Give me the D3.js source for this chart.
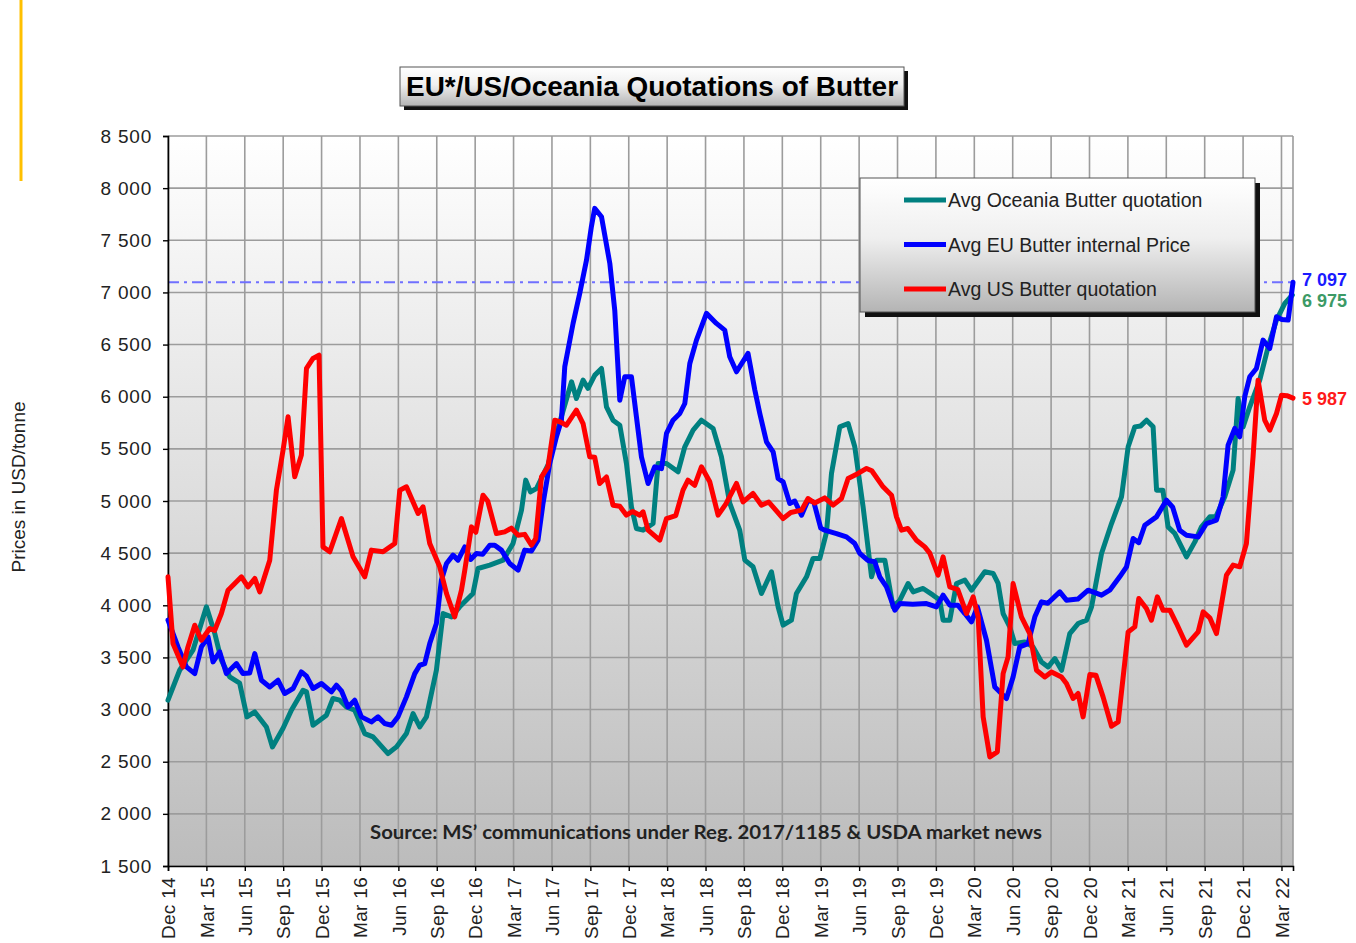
<!DOCTYPE html>
<html lang="en">
<head>
<meta charset="utf-8">
<title>EU/US/Oceania Quotations of Butter</title>
<script src="https://cdn.jsdelivr.net/npm/d3@7"></script>
<style>
  body { margin: 0; background: #fff; }
  svg { display: block; font-family: "Liberation Sans", Arial, sans-serif; }
</style>
</head>
<body>
<script>
// quarter labels on the x axis, every 3 months starting Dec 2014
var quarterLabels = ["Dec 14", "Mar 15", "Jun 15", "Sep 15", "Dec 15", "Mar 16", "Jun 16", "Sep 16",
  "Dec 16", "Mar 17", "Jun 17", "Sep 17", "Dec 17", "Mar 18", "Jun 18", "Sep 18", "Dec 18",
  "Mar 19", "Jun 19", "Sep 19", "Dec 19", "Mar 20", "Jun 20", "Sep 20", "Dec 20", "Mar 21",
  "Jun 21", "Sep 21", "Dec 21", "Mar 22"];
var yTicks = [1500, 2000, 2500, 3000, 3500, 4000, 4500, 5000, 5500, 6000, 6500, 7000, 7500, 8000, 8500];

// [months since Dec 2014, USD/tonne]
var oceania = [[0,3090],[0.91,3377],[1.95,3569],[3.0,3985],[3.65,3732],[4.17,3473],[4.82,3313],[5.6,3253],
  [6.17,2930],[6.78,2977],[7.69,2833],[8.16,2642],[8.99,2821],[9.64,2994],[10.55,3185],[10.82,3170],
  [11.33,2850],[12.38,2946],[12.89,3106],[13.42,3090],[13.94,3025],[14.59,2994],[15.37,2770],[16.02,2738],
  [17.19,2578],[17.85,2642],[18.63,2770],[19.15,2962],[19.67,2833],[20.19,2930],[20.97,3377],[21.49,3921],
  [22.15,3889],[22.79,3985],[23.83,4113],[24.22,4353],[25.14,4385],[26.18,4433],[26.96,4593],[27.62,4912],
  [27.95,5200],[28.32,5088],[28.79,5120],[29.7,5350],[30.6,5750],[31.53,6143],[31.91,5983],[32.43,6159],
  [32.82,6079],[33.35,6207],[33.87,6271],[34.26,5903],[34.77,5775],[35.3,5727],[35.82,5360],[36.21,4944],
  [36.6,4736],[37.12,4720],[37.9,4784],[38.29,5360],[38.95,5360],[39.85,5280],[40.38,5520],[41.03,5680],
  [41.68,5775],[42.59,5696],[43.24,5424],[43.89,4980],[44.67,4720],[45.07,4433],[45.71,4369],[46.37,4113],
  [47.15,4321],[47.67,3985],[48.06,3809],[48.71,3857],[49.1,4113],[49.89,4273],[50.4,4449],[50.93,4449],
  [51.45,4698],[51.84,5264],[52.49,5711],[53.14,5743],[53.66,5520],[54.31,4944],[54.97,4273],[55.36,4433],
  [56.01,4433],[56.65,3985],[57.18,4049],[57.83,4209],[58.22,4129],[59.0,4161],[59.78,4097],[60.3,4050],
  [60.56,3857],[61.08,3857],[61.61,4209],[62.26,4241],[62.78,4145],[63.82,4321],[64.47,4305],[64.86,4209],
  [65.25,3921],[65.77,3793],[66.16,3633],[66.94,3649],[67.59,3601],[68.25,3457],[68.77,3409],[69.29,3489],
  [69.82,3377],[70.46,3729],[71.11,3825],[71.77,3857],[72.16,3985],[72.94,4497],[73.72,4784],[74.5,5040],
  [75.02,5520],[75.54,5711],[76.0,5720],[76.46,5775],[76.97,5711],[77.24,5104],[77.73,5104],[78.14,4752],
  [78.67,4688],[79.58,4464],[80.23,4608],[80.75,4752],[81.4,4848],[81.87,4848],[82.57,5040],[83.22,5296],
  [83.61,5983],[84.0,5711],[84.52,5903],[85.3,6159],[85.96,6479],[86.61,6735],[87.26,6895],[87.85,6975]];

var euInternal = [[0,3857],[0.78,3601],[1.44,3409],[2.09,3345],[2.61,3601],[3.13,3697],[3.52,3457],[4.04,3553],
  [4.56,3345],[5.35,3441],[5.86,3345],[6.38,3350],[6.78,3537],[7.3,3281],[7.95,3217],[8.6,3281],[9.12,3154],
  [9.77,3202],[10.42,3361],[10.82,3320],[11.33,3202],[11.99,3250],[12.77,3170],[13.16,3234],[13.55,3180],
  [14.07,3025],[14.59,3090],[15.11,2930],[15.89,2882],[16.41,2930],[16.93,2866],[17.46,2850],[17.97,2930],
  [18.63,3122],[19.28,3345],[19.67,3425],[20.06,3440],[20.45,3633],[20.97,3825],[21.36,4241],[21.76,4401],
  [22.27,4481],[22.66,4433],[23.19,4560],[23.65,4440],[24.1,4497],[24.59,4490],[25.14,4576],[25.53,4576],
  [26.05,4529],[26.7,4401],[27.35,4337],[27.87,4529],[28.4,4520],[28.91,4624],[29.3,4976],[29.83,5360],
  [30.35,5616],[30.74,5775],[31.0,6287],[31.65,6703],[32.17,6991],[32.7,7310],[33.08,7630],[33.34,7806],
  [33.87,7726],[34.52,7279],[34.91,6824],[35.3,5967],[35.69,6191],[36.21,6191],[36.6,5807],[36.99,5424],
  [37.51,5168],[38.03,5328],[38.56,5310],[38.95,5648],[39.46,5775],[39.99,5839],[40.38,5935],[40.77,6319],
  [41.29,6543],[42.07,6799],[42.85,6703],[43.5,6639],[43.89,6383],[44.42,6239],[45.32,6415],[45.85,6064],
  [46.24,5839],[46.76,5568],[47.28,5472],[47.67,5216],[48.06,5184],[48.58,4976],[48.97,5000],[49.5,4864],
  [50.01,5008],[50.46,4990],[51.0,4740],[51.31,4720],[52.23,4688],[53.01,4656],[53.66,4592],[54.05,4497],
  [54.68,4430],[55.22,4417],[55.61,4273],[56.14,4177],[56.79,3953],[57.18,4017],[58.19,4010],[59.26,4017],
  [60.04,3985],[60.56,4097],[61.08,4001],[61.71,4001],[62.26,3921],[62.78,3841],[63.24,3985],[63.95,3665],
  [64.6,3217],[65.51,3106],[66.03,3313],[66.55,3601],[67.2,3633],[67.73,3889],[68.25,4033],[68.74,4020],
  [69.68,4129],[70.2,4049],[71.09,4060],[71.89,4145],[72.94,4097],[73.58,4145],[74.36,4273],[74.89,4369],
  [75.41,4640],[75.85,4600],[76.32,4768],[77.23,4848],[78.01,5008],[78.5,4940],[79.05,4720],[79.58,4672],
  [80.49,4656],[81.14,4784],[81.92,4816],[82.44,5040],[82.83,5536],[83.35,5696],[83.74,5616],[84.13,6000],
  [84.52,6191],[85.04,6271],[85.56,6543],[86.08,6463],[86.61,6767],[87.03,6740],[87.52,6735],[87.9,7097]];

var usQuotation = [[0,4273],[0.39,3633],[1.17,3409],[1.56,3601],[2.09,3809],[2.61,3665],[3.26,3777],[3.65,3760],
  [4.17,3921],[4.69,4145],[5.74,4273],[6.25,4177],[6.78,4257],[7.17,4129],[7.95,4433],[8.47,5104],[8.99,5488],
  [9.38,5807],[9.9,5232],[10.42,5440],[10.82,6271],[11.33,6367],[11.8,6399],[12.11,4560],[12.64,4513],
  [13.55,4832],[14.46,4465],[15.37,4273],[15.89,4529],[16.8,4513],[17.72,4593],[18.11,5104],[18.63,5136],
  [19.54,4880],[19.93,4944],[20.45,4593],[21.23,4369],[21.76,4113],[22.4,3889],[22.93,4145],[23.19,4337],
  [23.71,4752],[24.05,4700],[24.61,5056],[24.98,5000],[25.66,4688],[26.31,4704],[26.83,4740],[27.35,4672],
  [27.87,4680],[28.4,4576],[28.73,4640],[29.18,5232],[29.69,5328],[30.22,5775],[30.61,5760],[31.13,5727],
  [31.91,5871],[32.43,5743],[32.95,5424],[33.34,5420],[33.73,5168],[34.26,5230],[34.77,4960],[35.3,4950],
  [35.82,4864],[36.31,4900],[36.86,4864],[37.12,4896],[37.51,4720],[38.42,4624],[38.95,4832],[39.67,4860],
  [40.24,5104],[40.63,5200],[41.15,5150],[41.68,5328],[42.33,5184],[42.98,4864],[43.58,4970],[44.42,5168],
  [44.93,4992],[45.71,5072],[46.37,4960],[46.94,4990],[48.06,4832],[48.66,4890],[49.5,4912],[50.01,5024],
  [50.53,4980],[51.31,5030],[51.97,4960],[52.62,5024],[53.14,5216],[53.92,5264],[54.58,5312],[54.99,5290],
  [55.87,5136],[56.53,5056],[56.92,4848],[57.31,4720],[57.8,4736],[58.48,4624],[59.13,4560],[59.52,4500],
  [60.17,4289],[60.56,4465],[61.08,4177],[61.71,4150],[62.39,3921],[62.91,4081],[63.3,3889],[63.69,2930],
  [64.21,2546],[64.8,2594],[65.25,3345],[65.64,3505],[66.03,4209],[66.68,3889],[67.33,3729],[67.86,3377],
  [68.51,3313],[69.03,3361],[69.81,3313],[70.2,3250],[70.72,3106],[71.11,3154],[71.5,2930],[72.03,3337],
  [72.5,3330],[73.06,3122],[73.72,2840],[74.24,2882],[75.02,3745],[75.54,3793],[75.85,4065],[76.45,3969],
  [76.84,3857],[77.3,4081],[77.75,3953],[78.28,3953],[78.8,3825],[79.58,3617],[80.49,3745],[80.88,3937],
  [81.4,3880],[81.92,3729],[82.7,4289],[83.22,4385],[83.74,4369],[84.26,4593],[84.78,5424],[85.17,6159],
  [85.69,5775],[86.08,5679],[86.61,5839],[87.0,6015],[87.42,6010],[87.9,5987]];

var seriesNames = ["Avg Oceania Butter quotation", "Avg EU Butter internal Price", "Avg US Butter quotation"];
var seriesColors = ["#008080", "#0000ff", "#ff0000"];
var latestValues = [6975, 7097, 5987];
var latestColors = ["#3c9a66", "#1a1aff", "#ff1a1a"];

var w = 1356, h = 943;
var margin = { left: 168, right: 63, top: 136, bottom: 77 };

var svg = d3.select("body").append("svg")
  .attr("width", w)
  .attr("height", h);

var x = d3.scaleLinear().domain([0, 87.9]).range([margin.left, w - margin.right]);
var y = d3.scaleLinear().domain([1500, 8500]).range([h - margin.bottom, margin.top]);
var fmt = function(d) { return d3.format(",")(d).replace(/,/g, " "); };

var defs = svg.append("defs");
var bg = defs.append("linearGradient").attr("id", "plotbg").attr("x1", 0).attr("y1", 0).attr("x2", 0).attr("y2", 1);
bg.append("stop").attr("offset", "0%").attr("stop-color", "#ffffff");
bg.append("stop").attr("offset", "100%").attr("stop-color", "#bcbcbc");
var boxbg = defs.append("linearGradient").attr("id", "boxbg").attr("x1", 0).attr("y1", 0).attr("x2", 0).attr("y2", 1);
boxbg.append("stop").attr("offset", "0%").attr("stop-color", "#ffffff");
boxbg.append("stop").attr("offset", "45%").attr("stop-color", "#efefef");
boxbg.append("stop").attr("offset", "100%").attr("stop-color", "#b4b4b4");

// yellow margin mark
svg.append("line")
  .attr("x1", 21).attr("x2", 21).attr("y1", 0).attr("y2", 181)
  .attr("stroke", "#ffc000").attr("stroke-width", 3);

// plot background
svg.append("rect")
  .attr("x", x(0)).attr("y", y(8500))
  .attr("width", x(87.9) - x(0)).attr("height", y(1500) - y(8500))
  .attr("fill", "url(#plotbg)");

// grid
var quarters = d3.range(quarterLabels.length).map(function(i) { return i * 3; });
svg.append("g").selectAll("line.h")
  .data(yTicks).enter().append("line")
  .attr("x1", x(0)).attr("x2", x(87.9))
  .attr("y1", function(d) { return y(d); }).attr("y2", function(d) { return y(d); })
  .attr("stroke", "#9c9c9c").attr("stroke-width", 1.6);
svg.append("g").selectAll("line.v")
  .data(quarters.concat([87.9])).enter().append("line")
  .attr("x1", function(d) { return x(d); }).attr("x2", function(d) { return x(d); })
  .attr("y1", y(8500)).attr("y2", y(1500))
  .attr("stroke", "#9c9c9c").attr("stroke-width", 1.6);

// latest EU level reference line
svg.append("line")
  .attr("x1", x(0)).attr("x2", x(87.9))
  .attr("y1", y(latestValues[1])).attr("y2", y(latestValues[1]))
  .attr("stroke", "#7070ff").attr("stroke-width", 2)
  .attr("stroke-dasharray", "11,5,3,5");

// axes
var yAxis = svg.append("g")
  .attr("transform", "translate(" + x(0) + ",0)")
  .call(d3.axisLeft(y).tickValues(yTicks).tickSize(5).tickPadding(11).tickFormat(fmt));
yAxis.selectAll("text")
  .attr("font-size", "19px").attr("letter-spacing", "0.8px")
  .attr("fill", "#222").attr("font-family", "Liberation Sans, Arial, sans-serif");

var xAxis = svg.append("g")
  .attr("transform", "translate(0," + y(1500) + ")")
  .call(d3.axisBottom(x).tickValues(quarters).tickSize(5)
    .tickFormat(function(d, i) { return quarterLabels[i]; }));
xAxis.selectAll("text")
  .attr("transform", "rotate(-90)")
  .attr("text-anchor", "end")
  .attr("x", -11).attr("y", 0).attr("dy", "0.35em")
  .attr("font-size", "19px").attr("letter-spacing", "0.3px")
  .attr("fill", "#222").attr("font-family", "Liberation Sans, Arial, sans-serif");
svg.selectAll(".domain").attr("stroke", "#000").attr("stroke-width", 1.6);
svg.selectAll(".tick line").attr("stroke", "#000").attr("stroke-width", 1.4);

// series lines
var line = d3.line()
  .x(function(d) { return x(d[0]); })
  .y(function(d) { return y(d[1]); });
var allSeries = [oceania, euInternal, usQuotation];
// drawn order: Oceania, EU, US on top like the reference
svg.append("g").selectAll("path")
  .data(allSeries).enter().append("path")
  .attr("d", line)
  .attr("fill", "none")
  .attr("stroke", function(d, i) { return seriesColors[i]; })
  .attr("stroke-width", 5)
  .attr("stroke-linejoin", "round")
  .attr("stroke-linecap", "round");

// latest value labels (EU and Oceania stacked, US beside its line)
var endX = x(87.9) + 9;
var labelY = [y(latestValues[1]) + 25, y(latestValues[1]) + 4, y(latestValues[2]) + 7];
svg.selectAll("text.latest")
  .data([0, 1, 2]).enter().append("text")
  .attr("class", "latest")
  .attr("x", endX)
  .attr("y", function(i) { return labelY[i]; })
  .attr("font-size", "18px").attr("font-weight", "bold")
  .attr("fill", function(i) { return latestColors[i]; })
  .text(function(i) { return fmt(latestValues[i]); });

// source note
svg.append("text")
  .attr("x", 706).attr("y", 839)
  .attr("text-anchor", "middle")
  .attr("font-family", "Lato, 'Open Sans', sans-serif")
  .attr("font-weight", "bold").attr("font-size", "19px").attr("fill", "#222")
  .attr("textLength", 672).attr("lengthAdjust", "spacingAndGlyphs")
  .text("Source: MS\u2019 communications under Reg. 2017/1185 & USDA market news");

// y axis title
svg.append("text")
  .attr("transform", "translate(25,487) rotate(-90)")
  .attr("text-anchor", "middle")
  .attr("font-size", "19px").attr("fill", "#222")
  .text("Prices in USD/tonne");

// title box
var tb = { x: 400, y: 67, w: 504, h: 39 };
svg.append("rect").attr("x", tb.x + 4).attr("y", tb.y + 4).attr("width", tb.w).attr("height", tb.h).attr("fill", "#111");
svg.append("rect").attr("x", tb.x).attr("y", tb.y).attr("width", tb.w).attr("height", tb.h)
  .attr("fill", "url(#boxbg)").attr("stroke", "#555").attr("stroke-width", 1);
svg.append("text")
  .attr("x", tb.x + tb.w / 2).attr("y", tb.y + 29)
  .attr("text-anchor", "middle")
  .attr("font-size", "28px").attr("font-weight", "bold").attr("fill", "#000")
  .attr("textLength", 492).attr("lengthAdjust", "spacingAndGlyphs")
  .text("EU*/US/Oceania Quotations of Butter");

// legend
var lg = { x: 860, y: 178, w: 395, h: 134 };
svg.append("rect").attr("x", lg.x + 5).attr("y", lg.y + 5).attr("width", lg.w).attr("height", lg.h).attr("fill", "#111");
svg.append("rect").attr("x", lg.x).attr("y", lg.y).attr("width", lg.w).attr("height", lg.h)
  .attr("fill", "url(#boxbg)").attr("stroke", "#555").attr("stroke-width", 1);
var items = svg.append("g").selectAll("g")
  .data(seriesNames).enter().append("g")
  .attr("transform", function(d, i) { return "translate(" + (lg.x + 44) + "," + (lg.y + 22 + i * 44.5) + ")"; });
items.append("line")
  .attr("x1", 0).attr("x2", 42).attr("y1", 0).attr("y2", 0)
  .attr("stroke", function(d, i) { return seriesColors[i]; })
  .attr("stroke-width", 5);
items.append("text")
  .attr("x", 44).attr("y", 7)
  .attr("font-size", "19.5px").attr("fill", "#222")
  .text(function(d) { return d; });
</script>
</body>
</html>
